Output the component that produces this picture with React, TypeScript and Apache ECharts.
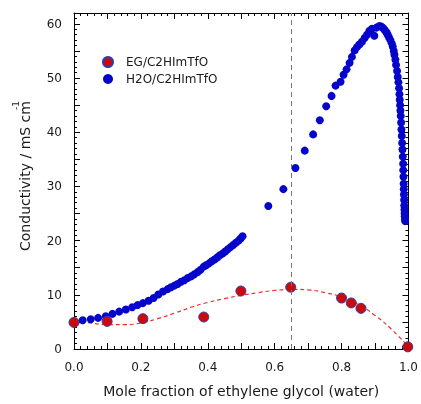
import React, { useEffect, useRef } from "react";
import * as echarts from "echarts";

const egX = [0, 0.099, 0.206, 0.388, 0.499, 0.648, 0.8, 0.829, 0.858, 0.998];
const egY = [4.9, 5.1, 5.6, 5.9, 10.7, 11.4, 9.4, 8.5, 7.5, 0.4];

const fitX = [0, 0.05, 0.1, 0.15, 0.2, 0.25, 0.3, 0.35, 0.4, 0.45, 0.5, 0.55, 0.6, 0.65, 0.7, 0.75, 0.8, 0.85, 0.9, 0.95, 1.0];
const fitY = [5.2, 4.8, 4.5, 4.5, 4.8, 5.6, 6.6, 7.7, 8.6, 9.3, 9.9, 10.4, 10.8, 11.0, 10.9, 10.4, 9.6, 8.2, 6.2, 3.6, 0.4];

const waterX = [0, 0.026, 0.05, 0.072, 0.095, 0.115, 0.135, 0.155, 0.174, 0.19, 0.206, 0.223, 0.238, 0.252, 0.266, 0.28, 0.29, 0.3, 0.31, 0.32, 0.33, 0.34, 0.35, 0.36, 0.37, 0.378, 0.388, 0.396, 0.404, 0.412, 0.42, 0.428, 0.436, 0.444, 0.452, 0.46, 0.468, 0.476, 0.484, 0.492, 0.498, 0.504, 0.581, 0.626, 0.662, 0.69, 0.715, 0.735, 0.754, 0.77, 0.782, 0.797, 0.806, 0.815, 0.824, 0.831, 0.839, 0.846, 0.853, 0.861, 0.869, 0.876, 0.883, 0.891, 0.898, 0.904, 0.913, 0.918, 0.923, 0.927, 0.931, 0.935, 0.938, 0.942, 0.946, 0.95, 0.953, 0.956, 0.958, 0.961, 0.963, 0.966, 0.968, 0.97, 0.972, 0.973, 0.974, 0.975, 0.976, 0.977, 0.978, 0.979, 0.98, 0.981, 0.982, 0.983, 0.984, 0.9845, 0.985, 0.9855, 0.986, 0.9865, 0.987, 0.9875, 0.988, 0.9885, 0.989, 0.9895, 0.99];
const waterY = [5.06, 5.3, 5.5, 5.74, 6.05, 6.48, 6.9, 7.3, 7.7, 8.1, 8.46, 8.9, 9.4, 10.06, 10.6, 11.05, 11.4, 11.7, 12.0, 12.4, 12.7, 13.1, 13.4, 13.8, 14.2, 14.6, 15.2, 15.5, 15.8, 16.2, 16.5, 16.9, 17.3, 17.6, 18.0, 18.4, 18.8, 19.2, 19.6, 20.0, 20.4, 20.8, 26.4, 29.5, 33.4, 36.6, 39.6, 42.2, 44.8, 46.7, 48.6, 49.3, 50.6, 51.6, 52.8, 53.9, 55.1, 55.7, 56.2, 56.7, 57.4, 58.0, 58.7, 59.1, 57.8, 59.3, 59.6, 59.5, 59.3, 59.0, 58.7, 58.4, 58.0, 57.5, 57.0, 56.4, 55.8, 55.0, 54.3, 53.4, 52.4, 51.3, 50.2, 49.2, 48.1, 47.0, 46.0, 45.0, 44.0, 43.0, 41.8, 40.5, 39.3, 38.0, 36.8, 35.5, 34.2, 33.0, 31.8, 30.5, 29.5, 28.5, 27.5, 26.5, 25.7, 25.0, 24.5, 24.0, 23.6, 23.2];

const markerX = 0.645;
const seriesNames = ["EG/C2HImTfO", "H2O/C2HImTfO"];

const FONT = "DejaVu Sans";
const TXT = "#1a1a1a";

export default function App() {
  const ref = useRef<HTMLDivElement>(null);
  useEffect(() => {
    if (!ref.current) return;
    const chart = echarts.init(ref.current, null, { renderer: "svg" });
    const zip = (xs: number[], ys: number[]) => xs.map((x, i) => [x, ys[i]]);
    const line = { show: true, onZero: false, lineStyle: { color: "#000", width: 1 } };
    const tick = { show: true, inside: true, length: 6, lineStyle: { color: "#000" } };
    const minor = { show: true, splitNumber: 5, length: 3, lineStyle: { color: "#000" } };
    chart.setOption({
      animation: false,
      textStyle: { fontFamily: FONT },
      grid: { left: 74, right: 11, top: 13, bottom: 55, containLabel: false },
      legend: {
        orient: "vertical",
        left: 97,
        top: 51,
        itemWidth: 26,
        itemHeight: 10,
        itemGap: 5,
        data: seriesNames,
        textStyle: { fontFamily: FONT, fontSize: 12, color: TXT },
      },
      xAxis: [
        {
          type: "value",
          min: 0,
          max: 1,
          interval: 0.1,
          axisLine: line,
          splitLine: { show: false },
          axisTick: tick,
          minorTick: minor,
          axisLabel: {
            margin: 12,
            fontFamily: FONT,
            fontSize: 12,
            color: TXT,
            formatter: (v: number) => (Math.round(v * 10) % 2 === 0 ? v.toFixed(1) : ""),
          },
          name: "Mole fraction of ethylene glycol (water)",
          nameLocation: "middle",
          nameGap: 35,
          nameTextStyle: { fontFamily: FONT, fontSize: 14, color: TXT },
        },
        {
          type: "value",
          position: "top",
          min: 0,
          max: 1,
          interval: 0.1,
          axisLine: line,
          splitLine: { show: false },
          axisTick: tick,
          minorTick: minor,
          axisLabel: { show: false },
        },
      ],
      yAxis: [
        {
          type: "value",
          min: 0,
          max: 62,
          interval: 5,
          axisLine: line,
          splitLine: { show: false },
          axisTick: tick,
          minorTick: minor,
          axisLabel: {
            margin: 12,
            fontFamily: FONT,
            fontSize: 12,
            color: TXT,
            showMaxLabel: false,
            formatter: (v: number) => (v % 10 === 0 ? String(v) : ""),
          },
        },
        {
          type: "value",
          position: "right",
          min: 0,
          max: 62,
          interval: 5,
          axisLine: line,
          splitLine: { show: false },
          axisTick: tick,
          minorTick: minor,
          axisLabel: { show: false },
        },
      ],
      graphic: [
        {
          type: "text",
          x: 25,
          y: 176,
          rotation: Math.PI / 2,
          style: {
            text: "Conductivity / mS cm",
            fontFamily: FONT,
            fontSize: 14,
            fill: TXT,
            textAlign: "center",
            textVerticalAlign: "middle",
          },
        },
        {
          type: "text",
          x: 16,
          y: 110,
          rotation: Math.PI / 2,
          style: {
            text: "-1",
            fontFamily: FONT,
            fontSize: 9,
            fill: TXT,
            textAlign: "left",
            textVerticalAlign: "middle",
          },
        },
      ],
      series: [
        {
          name: "fit",
          type: "line",
          data: zip(fitX, fitY),
          smooth: true,
          showSymbol: false,
          symbol: "none",
          lineStyle: { color: "#f03030", width: 1.2, type: [4, 3] },
          silent: true,
          z: 1,
          markLine: {
            silent: true,
            symbol: ["none", "none"],
            label: { show: false },
            lineStyle: { color: "#777", type: [5, 4], width: 1 },
            data: [{ xAxis: markerX }],
          },
        },
        {
          name: seriesNames[1],
          type: "scatter",
          data: zip(waterX, waterY),
          symbol: "circle",
          symbolSize: 8,
          itemStyle: { color: "#0505cc", opacity: 1 },
          z: 2,
        },
        {
          name: seriesNames[0],
          type: "scatter",
          data: zip(egX, egY),
          symbol: "circle",
          symbolSize: 10,
          itemStyle: { color: "#cc0a0a", borderColor: "#2a3fb0", borderWidth: 1, opacity: 1 },
          z: 3,
        },
      ],
    });
    return () => chart.dispose();
  }, []);
  return <div ref={ref} style={{ position: "fixed", left: 0, top: 0, width: 421, height: 404 }} />;
}
